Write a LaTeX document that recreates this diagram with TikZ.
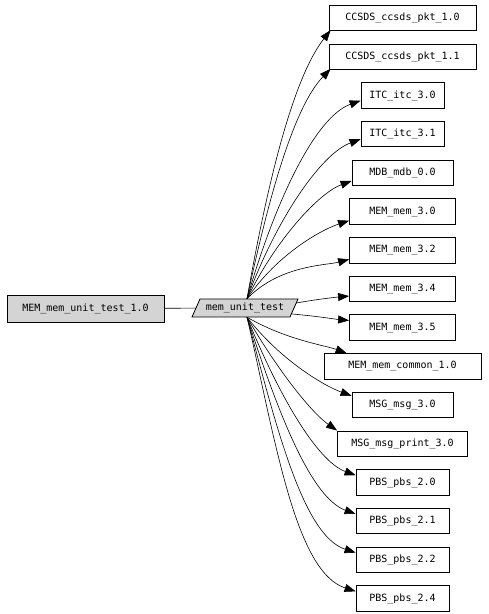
\documentclass[tikz,border=0pt]{standalone}
\usepackage{fontspec}
\setmonofont{DejaVu Sans Mono}
\usetikzlibrary{arrows.meta,calc}

\begin{document}
\begin{tikzpicture}[x=1pt, y=1pt, font=\ttfamily\fontsize{10}{11}\selectfont,
    box/.style={draw, line width=0.8pt, minimum height=25.5pt, inner sep=2pt},
    dep/.style={line width=0.6pt, -{Triangle[length=11pt, width=8pt]}, out looseness=1.1, in looseness=0.55}]
    \useasboundingbox (0,0) rectangle (488,614);
    \node[box, fill=black!17, minimum width=157pt, minimum height=27pt] (unittest) at (85.5,305.5) {MEM\_mem\_unit\_test\_1.0};
    % slanted box of the test program
    \filldraw[fill=black!17, line width=0.8pt] (192,297) -- (290,297) -- (298,315) -- (200,315) -- cycle;
    \node[minimum width=98pt, minimum height=18pt, inner sep=0pt] (mut) at (245,306) {mem\_unit\_test};
    \draw[line width=0.6pt] (unittest) -- (mut);

    \coordinate (mtop) at ($(mut.north)+(2,0)$); \coordinate (mbot) at ($(mut.south)+(2,0)$);
    \coordinate (mright1) at ($(mut.east)+(2,5)$); \coordinate (mright2) at ($(mut.east)+(-2,-6)$);

    \foreach \i/\lbl/\w in {1/CCSDS\_ccsds\_pkt\_1.0/147, 2/CCSDS\_ccsds\_pkt\_1.1/147, 3/ITC\_itc\_3.0/83,
        4/ITC\_itc\_3.1/83, 5/MDB\_mdb\_0.0/101, 6/MEM\_mem\_3.0/106, 7/MEM\_mem\_3.2/106, 8/MEM\_mem\_3.4/106,
        9/MEM\_mem\_3.5/106, 10/MEM\_mem\_common\_1.0/157, 11/MSG\_msg\_3.0/101, 12/MSG\_msg\_print\_3.0/130,
        13/PBS\_pbs\_2.0/93, 14/PBS\_pbs\_2.1/93, 15/PBS\_pbs\_2.2/93, 16/PBS\_pbs\_2.4/93} {
        \node[box, minimum width=\w pt] (b\i) at (402.5, {596-38.7*(\i-1)}) {\lbl};
    }

    % edges: target, start, anchor, shift, out/in angles
    \foreach \i/\src/\anc/\dx/\dy/\oa/\ia in {1/mtop/south west/2/1/80/232, 2/mtop/south west/2/1/78/226,
        3/mtop/south west/0/8/74/200, 4/mtop/south west/0/8/70/200, 5/mtop/south west/0/5/64/200,
        6/mtop/south west/0/4/56/198, 7/mtop/south west/0/4/46/195, 8/mright1/south west/0/6/10/185,
        9/mright2/north west/0/-6/-5/175, 10/mbot/north west/23/0/-30/160, 11/mbot/north west/0/-4/-52/160,
        12/mbot/north west/0/0/-60/145, 13/mbot/north west/0/-6/-68/160, 14/mbot/north west/0/-6/-72/160,
        15/mbot/north west/0/-6/-75/162, 16/mbot/north west/0/-6/-77/162} {
        \draw[dep] (\src) to[out=\oa, in=\ia] ($(b\i.\anc)+(\dx,\dy)$);
    }
\end{tikzpicture}
\end{document}
